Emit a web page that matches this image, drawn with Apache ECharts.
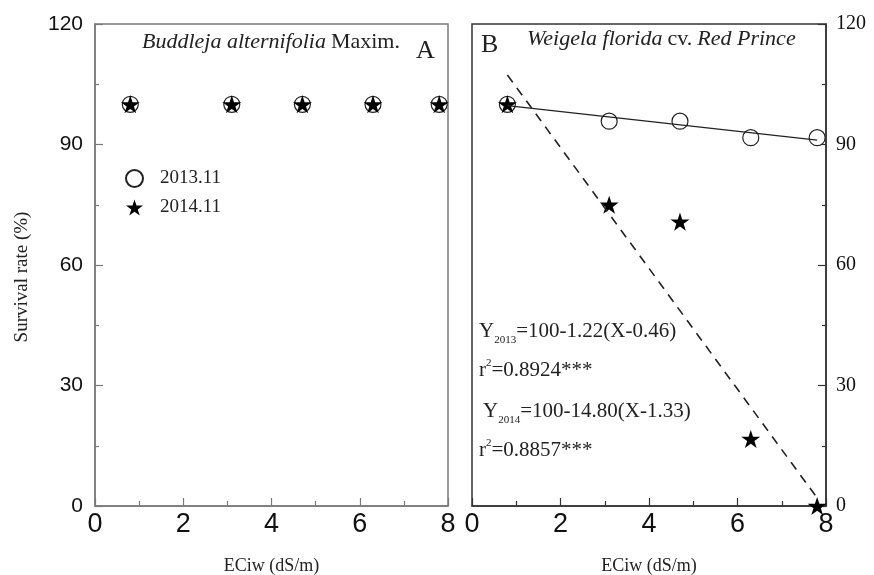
<!DOCTYPE html>
<html>
<head>
<meta charset="utf-8">
<script src="https://cdn.jsdelivr.net/npm/echarts@6/dist/echarts.min.js"></script>
<style>
  html, body { margin: 0; padding: 0; background: #fff; }
  #chart { width: 874px; height: 575px; }
</style>
</head>
<body>
<div id="chart"></div>
<script>
// ECiw (dS/m)
const ecValues = [0.8, 3.1, 4.7, 6.3, 7.8];
// survival rate (%)
const survA2013 = [100, 100, 100, 100, 100];
const survA2014 = [100, 100, 100, 100, 100];
const survB2013 = [100, 95.8, 95.8, 91.7, 91.7];
const survB2014 = [100, 75, 70.8, 16.7, 0];
// regression lines (end points)
const fit2013X = [0.8, 7.8];
const fit2013Y = [99.7, 91.1];
const fit2014X = [0.8, 7.8];
const fit2014Y = [107.3, 2];

const xTicks = [0, 2, 4, 6, 8];
const yTicks = [0, 30, 60, 90, 120];

const SERIF = 'Liberation Serif';
const SANS = 'Liberation Sans';
const STAR = 'path://M50,0L61.2,34.5L97.6,34.5L68.2,55.9L79.4,90.5L50,69.1L20.6,90.5L31.8,55.9L2.4,34.5L38.8,34.5Z';

const pairs = (xs, ys) => xs.map((x, i) => [x, ys[i]]);

const colA = '#7a7a7a';
const colB = '#333';

function xAxisOf(gi, col) {
  return {
    type: 'value', gridIndex: gi, min: xTicks[0], max: xTicks[xTicks.length - 1], interval: 2,
    axisLine: { show: true, onZero: false, lineStyle: { color: col, width: 1.5 } },
    axisTick: { show: true, inside: true, length: 8, lineStyle: { color: col, width: 1.2 } },
    minorTick: { show: true, splitNumber: 2, length: 5, lineStyle: { color: col, width: 1.2 } },
    splitLine: { show: false },
    axisLabel: { margin: 5, fontFamily: "'Liberation Sans Narrow', " + SANS, fontSize: 27, color: '#111' },
    name: 'ECiw (dS/m)', nameLocation: 'middle', nameGap: 51,
    nameTextStyle: { fontFamily: SERIF, fontSize: 18, color: '#222' }
  };
}

function yAxisOf(gi, pos, col, label) {
  return {
    type: 'value', gridIndex: gi, position: pos, min: yTicks[0], max: yTicks[yTicks.length - 1], interval: 30,
    axisLine: { show: true, onZero: false, lineStyle: { color: col, width: 1.5 } },
    axisTick: { show: true, inside: true, length: 8, lineStyle: { color: col, width: 1.2 } },
    minorTick: { show: true, splitNumber: 2, length: 4, lineStyle: { color: col, width: 1.2 } },
    splitLine: { show: false },
    axisLabel: label
  };
}

const chart = echarts.init(document.getElementById('chart'));
const richTitle = {
  i: { fontFamily: SERIF, fontStyle: 'italic', fontWeight: 'normal', fontSize: 22, color: '#222' },
  n: { fontFamily: SERIF, fontWeight: 'normal', fontSize: 22, color: '#222' }
};
const richY = {
  m: { fontFamily: SERIF, fontSize: 21, fill: '#222', lineHeight: 26, verticalAlign: 'top' },
  s: { fontFamily: SERIF, fontSize: 11, fill: '#222', lineHeight: 26, verticalAlign: 'bottom', padding: [0, 0, 1, 0] }
};
const richR = {
  m: { fontFamily: SERIF, fontSize: 21, fill: '#222', lineHeight: 26, verticalAlign: 'bottom' },
  p: { fontFamily: SERIF, fontSize: 11, fill: '#222', lineHeight: 26, verticalAlign: 'top', padding: [3, 0, 0, 0] }
};

const option = {
  animation: false,
  backgroundColor: '#fff',
  grid: [
    { left: 95, top: 24, width: 353, height: 482, show: true, borderColor: colA, borderWidth: 1.5, outerBoundsMode: 'none', containLabel: false },
    { left: 472, top: 24, width: 354, height: 482, show: true, borderColor: colB, borderWidth: 1.5, outerBoundsMode: 'none', containLabel: false }
  ],
  xAxis: [xAxisOf(0, colA), xAxisOf(1, colB)],
  yAxis: [
    yAxisOf(0, 'left', colA, { margin: 12, fontFamily: SANS, fontSize: 21, color: '#111' }),
    yAxisOf(1, 'right', colB, { margin: 10, fontFamily: SERIF, fontSize: 20, color: '#111' })
  ],
  title: [
    {
      text: '{i|Buddleja alternifolia} {n|Maxim.}', left: 142, top: 31, padding: 0,
      textStyle: { fontWeight: 'normal', rich: richTitle }
    },
    { text: 'A', left: 416, top: 38, padding: 0, textStyle: { fontFamily: SERIF, fontWeight: 'normal', fontSize: 26, color: '#222' } },
    { text: 'B', left: 481, top: 32, padding: 0, textStyle: { fontFamily: SERIF, fontWeight: 'normal', fontSize: 26, color: '#222' } },
    {
      text: '{i|Weigela florida} {n|cv.} {i|Red Prince}', left: 527, top: 28, padding: 0,
      textStyle: { fontWeight: 'normal', rich: richTitle }
    }
  ],
  legend: {
    left: 120, top: 164, orient: 'vertical', itemWidth: 17, itemHeight: 17, itemGap: 10,
    data: ['2013.11', '2014.11'],
    textStyle: { fontFamily: SERIF, fontSize: 19, color: '#222', padding: [0, 0, 0, 12] }
  },
  graphic: [
    {
      type: 'text', x: 22, y: 277, rotation: Math.PI / 2,
      style: { text: 'Survival rate (%)', fontFamily: SERIF, fontSize: 19, fill: '#222', align: 'center', verticalAlign: 'middle' }
    },
    { type: 'text', x: 479, y: 321, style: { text: '{m|Y}{s|2013}{m|=100-1.22(X-0.46)}', rich: richY } },
    { type: 'text', x: 479, y: 355, style: { text: '{m|r}{p|2}{m|=0.8924***}', rich: richR } },
    { type: 'text', x: 483, y: 401, style: { text: '{m|Y}{s|2014}{m|=100-14.80(X-1.33)}', rich: richY } },
    { type: 'text', x: 479, y: 435, style: { text: '{m|r}{p|2}{m|=0.8857***}', rich: richR } }
  ],
  series: [
    {
      name: '2013.11', type: 'scatter', xAxisIndex: 0, yAxisIndex: 0, symbol: 'circle', symbolSize: 16,
      itemStyle: { color: '#fff', borderColor: '#222', borderWidth: 1.2, opacity: 1 }, data: pairs(ecValues, survA2013)
    },
    {
      name: '2014.11', type: 'scatter', xAxisIndex: 0, yAxisIndex: 0, symbol: STAR, symbolKeepAspect: true, symbolSize: 19,
      itemStyle: { color: '#000', opacity: 1 }, data: pairs(ecValues, survA2014)
    },
    {
      name: 'fit2013', type: 'line', xAxisIndex: 1, yAxisIndex: 1, symbol: 'none', silent: true,
      lineStyle: { color: '#222', width: 1.3 }, data: pairs(fit2013X, fit2013Y)
    },
    {
      name: 'fit2014', type: 'line', xAxisIndex: 1, yAxisIndex: 1, symbol: 'none', silent: true,
      lineStyle: { color: '#222', width: 1.6, type: [9, 7] }, data: pairs(fit2014X, fit2014Y)
    },
    {
      name: '2013.11', type: 'scatter', xAxisIndex: 1, yAxisIndex: 1, symbol: 'circle', symbolSize: 16,
      itemStyle: { color: '#fff', borderColor: '#222', borderWidth: 1.2, opacity: 1 }, data: pairs(ecValues, survB2013)
    },
    {
      name: '2014.11', type: 'scatter', xAxisIndex: 1, yAxisIndex: 1, symbol: STAR, symbolKeepAspect: true, symbolSize: 19,
      itemStyle: { color: '#000', opacity: 1 }, data: pairs(ecValues, survB2014)
    }
  ]
};
chart.setOption(option);
</script>
</body>
</html>
